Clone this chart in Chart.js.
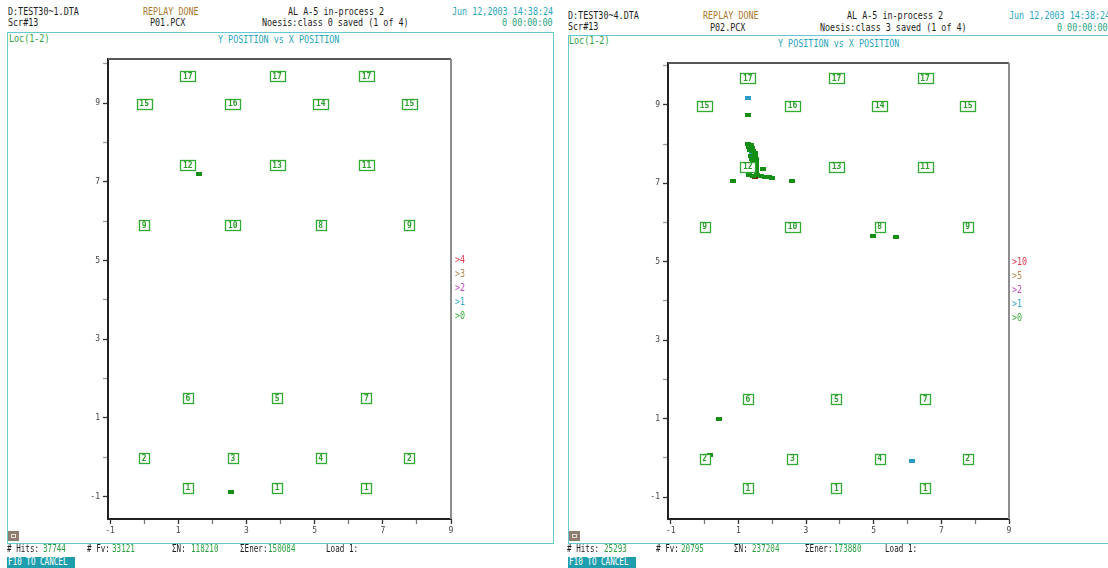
<!DOCTYPE html>
<html>
<head>
<meta charset="utf-8">
<script src="https://cdn.jsdelivr.net/npm/chart.js@4.4.1/dist/chart.umd.min.js"></script>
<style>
  html, body { margin: 0; padding: 0; background: #fff; }
  body { width: 1108px; height: 568px; overflow: hidden; position: relative; }
  .t { position: absolute; font: 10px "DejaVu Sans Mono", monospace; line-height: 12px;
       white-space: pre; transform: scaleX(0.84); transform-origin: 0 0; color: #1c1c1c; }
  .f { transform: scaleX(0.76); }
  .frame { position: absolute; border: 1.5px solid #66c8d2; box-sizing: border-box; }
  .plot { position: absolute; width: 420px; height: 500px; }
  .cancel { position: absolute; background: #1f9fae; color: #fff; height: 11px; width: 68px; }
  .icon { position: absolute; width: 11px; height: 10px; background: #8e7e70; box-sizing: border-box; border: 2px solid #8e7e70; }
  .icon::after { content: ""; position: absolute; left: 1px; top: 1px; width: 3px; height: 2px; border: 1px solid #e8e0d8; }
</style>
</head>
<body>
<div class="frame" style="left:7px;top:32px;width:547px;height:512px"></div>
<div class="frame" style="left:568px;top:35px;width:560px;height:509px"></div>
<canvas id="left" class="plot" width="420" height="500" style="left:60px;top:50px"></canvas>
<canvas id="right" class="plot" width="420" height="500" style="left:620px;top:50px"></canvas>
<div class="icon" style="left:8px;top:531px"></div>
<div class="icon" style="left:569px;top:531px"></div>
<div class="cancel" style="left:7px;top:557px"></div>
<div class="cancel" style="left:568px;top:557px"></div>
<script>
// Axis ticks (every unit, labels on odd values)
const xTickValues = [-1, 0, 1, 2, 3, 4, 5, 6, 7, 8, 9];
const xTickLabels = ['-1', '', '1', '', '3', '', '5', '', '7', '', '9'];
const yTickValues = [-1, 0, 1, 2, 3, 4, 5, 6, 7, 8, 9, 10];
const yTickLabels = ['-1', '', '1', '', '3', '', '5', '', '7', '', '9', ''];

// Sensor locations and their channel numbers
const sensorX = [1.28, 3.9, 6.52,  0.0, 2.6, 5.18, 7.78,  1.28, 3.9, 6.52,  0.0, 2.6, 5.18, 7.78,
                 1.28, 3.9, 6.52,  0.0, 2.6, 5.18, 7.78,  1.28, 3.9, 6.52];
const sensorY = [9.68, 9.68, 9.68,  8.98, 8.98, 8.98, 8.98,  7.42, 7.42, 7.42,  5.9, 5.9, 5.9, 5.9,
                 1.5, 1.5, 1.5,  -0.02, -0.02, -0.02, -0.02,  -0.77, -0.77, -0.77];
const sensorLabels = ['17', '17', '17',  '15', '16', '14', '15',  '12', '13', '11',  '9', '10', '8', '9',
                      '6', '5', '7',  '2', '3', '4', '2',  '1', '1', '1'];

// Located events, file TEST30~1 (class 0)
const leftGreenX = [1.61, 2.55];
const leftGreenY = [7.20, -0.89];

// Located events, file TEST30~4 (class 3)
const rightGreenX = [1.28, 1.28, 1.37, 1.31, 1.40, 1.34, 1.43, 1.49, 1.37, 1.49, 1.40, 1.51, 1.43, 1.51,
                     1.51, 1.51, 1.51, 1.72, 1.31, 1.43, 1.54, 1.66, 1.78, 1.90, 1.99, 0.83, 2.58,
                     4.98, 5.66, 0.42, 0.15];
const rightGreenY = [8.74, 8.01, 7.98, 7.93, 7.90, 7.85, 7.83, 7.78, 7.70, 7.70, 7.62, 7.62, 7.55, 7.55,
                     7.47, 7.39, 7.32, 7.37, 7.21, 7.19, 7.21, 7.19, 7.16, 7.16, 7.14, 7.06, 7.06,
                     5.66, 5.63, 0.99, 0.07];
const rightCyanX = [1.28, 1.40, 6.13];
const rightCyanY = [9.18, 7.78, -0.08];
const rightRedX = [1.49];
const rightRedY = [7.16];

// Hit-count colour classes
const leftLegend = ['>4', '>3', '>2', '>1', '>0'];
const rightLegend = ['>10', '>5', '>2', '>1', '>0'];
const legendColors = ['#e23a4a', '#b28a52', '#c24ac8', '#34a8c8', '#3aae3a'];

// Status line values
const leftStats = ['37744', '33121', '118210', '150084'];
const rightStats = ['25293', '20795', '237204', '173880'];

const pts = (xs, ys) => xs.map((x, i) => ({ x, y: ys[i] }));

function dot(color) {
  const c = document.createElement('canvas');
  c.width = 6; c.height = 4;
  const g = c.getContext('2d');
  g.fillStyle = color;
  g.fillRect(0, 0, 6, 4);
  return c;
}

const frameLines = {
  id: 'frameLines',
  afterDraw(chart) {
    const { ctx, chartArea: a } = chart;
    ctx.save();
    ctx.lineWidth = 2;
    ctx.strokeStyle = '#555';
    ctx.beginPath(); ctx.moveTo(a.left, a.top); ctx.lineTo(a.right, a.top); ctx.stroke();
    ctx.strokeStyle = '#8c8c8c';
    ctx.beginPath(); ctx.moveTo(a.right, a.top); ctx.lineTo(a.right, a.bottom); ctx.stroke();
    ctx.restore();
  }
};

const sensorBoxes = {
  id: 'sensorBoxes',
  afterDatasetsDraw(chart) {
    const ctx = chart.ctx;
    ctx.save();
    ctx.font = 'bold 8px "DejaVu Sans Mono"';
    ctx.textAlign = 'center';
    ctx.textBaseline = 'middle';
    chart.data.datasets.forEach((ds, i) => {
      if (!ds.boxLabels) return;
      chart.getDatasetMeta(i).data.forEach((pt, j) => {
        const s = ds.boxLabels[j];
        const w = Math.max(10, Math.round(ctx.measureText(s).width) + 5);
        const h = 10;
        const x = Math.round(pt.x - w / 2) + 0.5, y = Math.round(pt.y - h / 2) + 0.5;
        ctx.fillStyle = '#fff';
        ctx.fillRect(x, y, w, h);
        ctx.lineWidth = 1.3;
        ctx.strokeStyle = '#33aa33';
        ctx.strokeRect(x, y, w, h);
        ctx.fillStyle = '#2c9c2c';
        ctx.fillText(s, pt.x, pt.y + 0.5);
      });
    });
    ctx.restore();
  }
};

function panel(id, xMin, yMin, yMax, pad, events) {
  const tickFont = { family: 'DejaVu Sans Mono', size: 8 };
  const datasets = events.map(e => ({
    data: pts(e.x, e.y), pointStyle: dot(e.color), pointRadius: 3, showLine: false
  }));
  datasets.push({ data: pts(sensorX, sensorY), boxLabels: sensorLabels, pointRadius: 0, showLine: false });
  new Chart(document.getElementById(id), {
    type: 'scatter',
    data: { datasets },
    options: {
      responsive: false, animation: false, devicePixelRatio: 1,
      layout: { padding: pad },
      plugins: { legend: { display: false }, tooltip: { enabled: false } },
      scales: {
        x: {
          type: 'linear', min: xMin, max: 9,
          afterFit: s => { s.height = 20; },
          afterBuildTicks: s => { s.ticks = xTickValues.map(v => ({ value: v })); },
          ticks: { callback: v => xTickLabels[xTickValues.indexOf(v)], font: tickFont, color: '#444',
                   padding: 2, maxRotation: 0, autoSkip: false },
          grid: { drawOnChartArea: false, tickLength: 5, tickWidth: 1.3,
                  tickColor: c => (c.tick && c.tick.value % 2 !== 0) ? '#333' : '#777' },
          border: { color: '#222', width: 2 }
        },
        y: {
          type: 'linear', min: yMin, max: yMax,
          afterFit: s => { s.width = 30; },
          afterBuildTicks: s => { s.ticks = yTickValues.map(v => ({ value: v })); },
          ticks: { callback: v => yTickLabels[yTickValues.indexOf(v)], font: tickFont, color: '#444',
                   padding: 3, autoSkip: false },
          grid: { drawOnChartArea: false, tickLength: 5, tickWidth: 1.3,
                  tickColor: c => (c.tick && c.tick.value % 2 !== 0) ? '#333' : '#999' },
          border: { color: '#222', width: 2 }
        }
      }
    },
    plugins: [frameLines, sensorBoxes]
  });
}

panel('left', -1.06, -1.57, 10.12, { left: 18, right: 29, top: 9, bottom: 11 }, [
  { x: leftGreenX, y: leftGreenY, color: '#148e14' }
]);
panel('right', -1.08, -1.56, 10.07, { left: 18, right: 31, top: 13, bottom: 11 }, [
  { x: rightGreenX, y: rightGreenY, color: '#148e14' },
  { x: rightCyanX, y: rightCyanY, color: '#2a9cc4' },
  { x: rightRedX, y: rightRedY, color: '#7a2410' }
]);

// Header, legend and status texts
function t(x, y, s, color, cls) {
  const d = document.createElement('div');
  d.className = 't' + (cls ? ' ' + cls : '');
  d.style.left = x + 'px'; d.style.top = y + 'px';
  if (color) d.style.color = color;
  d.textContent = s;
  document.body.appendChild(d);
}
const BROWN = '#a8782e', CYAN = '#2aa6b8', TEAL = '#22a27a', GREEN = '#2f9f3f';

t(8, 6, 'D:TEST30~1.DTA'); t(8, 17, 'Scr#13');
t(143, 6, 'REPLAY DONE', BROWN); t(150, 17, 'P01.PCX');
t(288, 6, 'AL A-5 in-process 2'); t(262, 17, 'Noesis:class 0 saved (1 of 4)');
t(452, 6, 'Jun 12,2003 14:38:24', CYAN); t(502, 17, '0 00:00:00', TEAL);
t(9, 33, 'Loc(1-2)', GREEN); t(218, 34, 'Y POSITION vs X POSITION', CYAN);

t(568, 10, 'D:TEST30~4.DTA'); t(568, 21, 'Scr#13');
t(703, 10, 'REPLAY DONE', BROWN); t(710, 22, 'P02.PCX');
t(847, 10, 'AL A-5 in-process 2'); t(820, 22, 'Noesis:class 3 saved (1 of 4)');
t(1009, 10, 'Jun 12,2003 14:38:24', CYAN); t(1057, 22, '0 00:00:00', TEAL);
t(569, 35, 'Loc(1-2)', GREEN); t(778, 38, 'Y POSITION vs X POSITION', CYAN);

leftLegend.forEach((s, i) => t(455, 254 + i * 14, s, legendColors[i]));
rightLegend.forEach((s, i) => t(1012, 256 + i * 14, s, legendColors[i]));

const statNames = ['# Hits:', '# Fv:', '\u03A3N:', '\u03A3Ener:'];
const leftNameX = [7, 87, 172, 240], leftValX = [43, 112, 191, 268];
const rightNameX = [567, 656, 734, 805], rightValX = [604, 681, 752, 834];
statNames.forEach((s, i) => {
  t(leftNameX[i], 543, s, null, 'f'); t(leftValX[i], 543, leftStats[i], GREEN, 'f');
  t(rightNameX[i], 543, s, null, 'f'); t(rightValX[i], 543, rightStats[i], GREEN, 'f');
});
t(326, 543, 'Load 1:', null, 'f'); t(885, 543, 'Load 1:', null, 'f');
t(8, 556, 'F10 TO CANCEL', '#fff', 'f'); t(569, 556, 'F10 TO CANCEL', '#fff', 'f');
</script>
</body>
</html>
